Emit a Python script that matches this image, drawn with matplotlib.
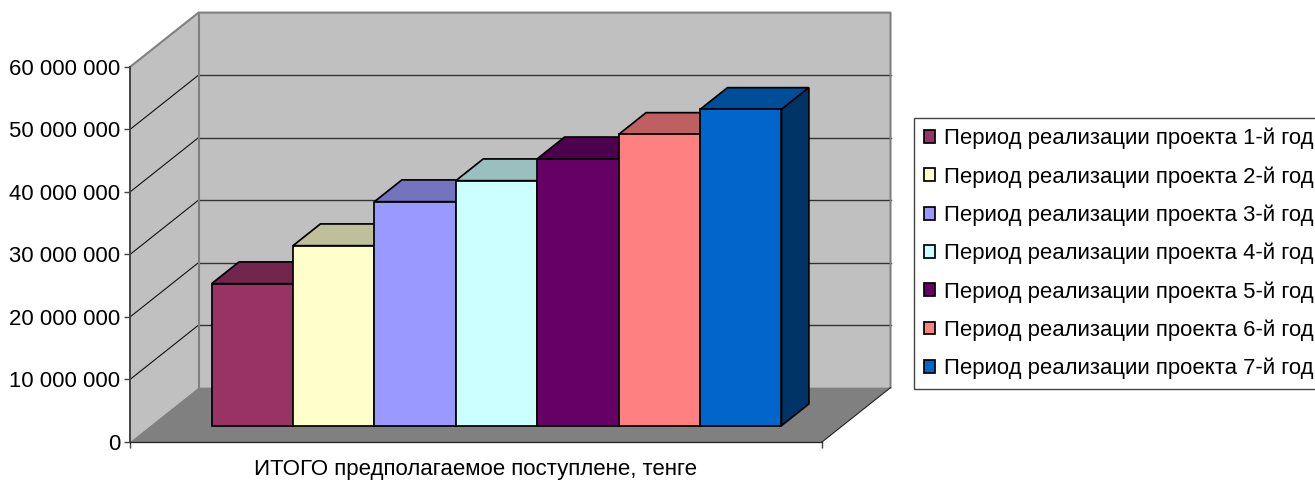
import matplotlib
matplotlib.use("Agg")
import matplotlib.pyplot as plt
from matplotlib.patches import Polygon, Patch
from matplotlib.colors import to_rgb

plt.rcParams['font.family'] = ['Liberation Sans', 'DejaVu Sans']

series = ["Период реализации проекта 1-й год", "Период реализации проекта 2-й год",
          "Период реализации проекта 3-й год", "Период реализации проекта 4-й год",
          "Период реализации проекта 5-й год", "Период реализации проекта 6-й год",
          "Период реализации проекта 7-й год"]
values = [22.72e6, 28.8e6, 35.84e6, 39.2e6, 42.7e6, 46.6e6, 50.6e6]
colors = ["#993366", "#FFFFCC", "#9999FF", "#CCFFFF", "#660066", "#FF8080", "#0066CC"]
y_ticks = [0, 10e6, 20e6, 30e6, 40e6, 50e6, 60e6]
y_labels = ["0", "10 000 000", "20 000 000", "30 000 000", "40 000 000", "50 000 000", "60 000 000"]
category = "ИТОГО предполагаемое поступлене, тенге"

W, H = 1315, 480
fig = plt.figure(figsize=(W / 100, H / 100), dpi=100)

GAP = 0.75
X_END = len(values) + 2 * GAP
DX = 0.8415          # sideways shift of the full chart depth, in bar widths
DY = 8.7e6           # upward shift of the full chart depth, in value units
L, R, T, B = 130, 890.5, 12.6, 442
ax = fig.add_axes([L / W, (H - B) / H, (R - L) / W, (B - T) / H])
ax.set_xlim(0, X_END + DX)
ax.set_ylim(0, 60e6 + DY)
ax.patch.set_visible(False)


def pr(x, v, d):
    return (x + d * DX, v + d * DY)


def poly(pts, fc, ec='none', lw=0, z=1, **kw):
    ax.add_patch(Polygon([pr(*p) for p in pts], closed=True, facecolor=fc, edgecolor=ec,
                         linewidth=lw, zorder=z, joinstyle='miter', clip_on=False, **kw))


def shade(c, f):
    return tuple(f * a for a in to_rgb(c))


top = y_ticks[-1]
# walls and floor
poly([(0, 0, 0), (0, top, 0), (0, top, 1), (0, 0, 1)], '#C0C0C0', z=1)
poly([(0, 0, 1), (0, top, 1), (X_END, top, 1), (X_END, 0, 1)], '#C0C0C0', z=1)
for v in y_ticks[1:-1]:
    ax.plot(*zip(pr(0, v, 0), pr(0, v, 1)), color='#111111', lw=0.8, zorder=2, clip_on=False)
    ax.plot(*zip(pr(0, v, 1), pr(X_END, v, 1)), color='#333333', lw=1.0, zorder=2, clip_on=False)
ax.plot(*zip(pr(0, top, 0), pr(0, top, 1), pr(X_END, top, 1), pr(X_END, 0, 1)),
        color='#808080', lw=1.5, zorder=3, clip_on=False)
ax.plot(*zip(pr(0, top, 1), pr(0, 0, 1)), color='#808080', lw=1.5, zorder=3, clip_on=False)
poly([(0, 0, 0), (0, 0, 1), (X_END, 0, 1), (X_END, 0, 0)], '#808080', z=4)
ax.plot(*zip(pr(X_END, 0, 0), pr(X_END, 0, 1)), color='#222222', lw=0.8, zorder=4, clip_on=False)

# bars
D0, D1 = 0.3, 0.7
z = 5
for i, (v, c) in enumerate(zip(values, colors)):
    x0, x1 = GAP + i, GAP + i + 1
    poly([(x0, v, D0), (x0, v, D1), (x1, v, D1), (x1, v, D0)], shade(c, 0.75), 'black', 1.25, z)
    poly([(x1, 0, D0), (x1, v, D0), (x1, v, D1), (x1, 0, D1)], shade(c, 0.5), 'black', 1.25, z)
    poly([(x0, 0, D0), (x0, v, D0), (x1, v, D0), (x1, 0, D0)], c, 'black', 1.25, z + 1)
    z += 2

# axes
for s in ('top', 'right'):
    ax.spines[s].set_visible(False)
ax.spines['left'].set_bounds(0, top)
ax.spines['bottom'].set_bounds(0, X_END)
ax.spines['left'].set_color('#444444')
ax.spines['left'].set_linewidth(1.4)
ax.spines['bottom'].set_color('#222222')
ax.spines['bottom'].set_linewidth(0.9)
ax.spines['left'].set_zorder(30)
ax.spines['bottom'].set_zorder(30)
ax.set_yticks(y_ticks)
ax.set_yticklabels(y_labels, fontsize=15.9, color='black')
ax.tick_params(axis='y', length=4, width=1, color='#444444', pad=3)
ax.set_xticks([0, X_END])
ax.set_xticklabels(['', ''])
ax.tick_params(axis='x', length=4.5, width=1, color='#444444')
ax.set_xticks([X_END / 2], minor=True)
ax.set_xticklabels([category], minor=True, fontsize=16, color='black')
ax.tick_params(axis='x', which='minor', length=0, pad=12.5)

# legend
handles = [Patch(facecolor=c, edgecolor='black', linewidth=1.25) for c in colors]
leg = fig.legend(handles, series, loc='upper left',
                 bbox_to_anchor=(914 / W, 1 - 118 / H), bbox_transform=fig.transFigure,
                 fontsize=15.9, frameon=True, fancybox=False, framealpha=1,
                 edgecolor='#444444', handlelength=0.52, handleheight=0.52,
                 handletextpad=0.4, labelspacing=0.76, borderpad=0.45, borderaxespad=0,
                 labelcolor='black')
leg.get_frame().set_linewidth(1.0)

fig.savefig('out.png', dpi=100, facecolor='white')
